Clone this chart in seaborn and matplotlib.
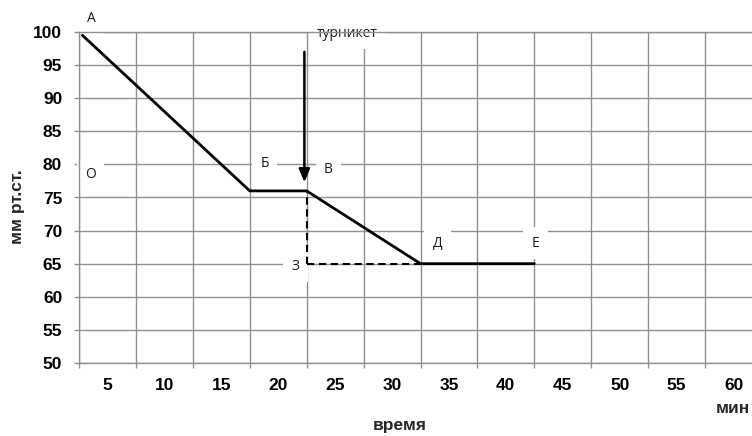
import numpy as np
import pandas as pd
import matplotlib.pyplot as plt
import seaborn as sns

# pressure curve (minutes, mm Hg)
time_min = [2.8, 17.5, 22.5, 32.5, 42.5]
pressure = [99.5, 76, 76, 65, 65]

# dashed helper lines to point З
dash_v_x = [22.5, 22.5]
dash_v_y = [76, 65]
dash_h_x = [22.5, 32.5]
dash_h_y = [65, 65]

# tourniquet arrow
arrow_x = 22.3
arrow_from = 97.0
arrow_to = 77.3

x_ticks = [5, 10, 15, 20, 25, 30, 35, 40, 45, 50, 55, 60]
y_ticks = [50, 55, 60, 65, 70, 75, 80, 85, 90, 95, 100]

point_labels = ['А', 'О', 'Б', 'В', 'Д', 'Е', 'З']
label_x = [3.6, 3.5, 18.8, 24.4, 34.0, 42.6, 21.5]
label_y = [102.1, 78.4, 80.1, 79.3, 68.1, 68.1, 64.6]

sns.set_theme(style='white')
plt.rcParams['font.family'] = ['Liberation Sans', 'DejaVu Sans']

GRID = '#8f8f8f'
LABEL_FONT = ['Open Sans', 'DejaVu Sans']

fig = plt.figure(figsize=(7.52, 4.36), dpi=100)
ax = fig.add_axes([79 / 752, 73 / 436, 683 / 752, 331 / 436])

curve = pd.DataFrame({'t': time_min, 'p': pressure})
sns.lineplot(data=curve, x='t', y='p', ax=ax, color='black', lw=2.0,
             estimator=None, sort=False, zorder=3)
sns.lineplot(x=dash_v_x, y=dash_v_y, ax=ax, color='black', lw=1.5,
             linestyle=(0, (3.5, 2.2)), estimator=None, zorder=3)
sns.lineplot(x=dash_h_x, y=dash_h_y, ax=ax, color='black', lw=1.5,
             linestyle=(0, (3.5, 2.2)), estimator=None, zorder=3)

ax.annotate('', xy=(arrow_x, arrow_to), xytext=(arrow_x, arrow_from),
            arrowprops=dict(arrowstyle='-|>,head_length=0.6,head_width=0.25',
                            color='black', lw=1.8, mutation_scale=13,
                            shrinkA=0, shrinkB=0), zorder=4)

ax.set_xlim(2.5, 62.5)
ax.set_ylim(50, 100)
ax.set_xticks(x_ticks)
ax.set_xticks(np.arange(2.5, 63, 5), minor=True)
ax.set_yticks(y_ticks)
ax.set_xlabel('')
ax.set_ylabel('')

ax.set_axisbelow(True)
ax.grid(False)
ax.grid(True, axis='x', which='minor', color=GRID, lw=1)
ax.grid(True, axis='y', which='major', color=GRID, lw=1)
for side in ['left', 'top', 'bottom']:
    ax.spines[side].set_visible(True)
    ax.spines[side].set_color(GRID)
    ax.spines[side].set_linewidth(1)
ax.spines['right'].set_visible(False)

ax.tick_params(axis='x', which='major', length=0, pad=11, labelsize=12.5,
               labelcolor='black')
ax.tick_params(axis='x', which='minor', length=3.6, width=1, color=GRID,
               bottom=True)
ax.tick_params(axis='y', which='major', length=3.6, width=1, color=GRID,
               pad=8.5, labelsize=12.5, labelcolor='black', left=True)
for lab in ax.get_xticklabels() + ax.get_yticklabels():
    lab.set_fontweight('bold')

for txt, lx, ly in zip(point_labels, label_x, label_y):
    ax.text(lx, ly, txt, ha='center', va='center', fontsize=10,
            family=LABEL_FONT, color='#1a1a1a', zorder=2.5, clip_on=False,
            bbox=dict(boxstyle='square,pad=0.6', fc='white', ec='none'))

ax.text(26.1, 99.8, 'турникет', ha='center', va='center', fontsize=10,
        family=LABEL_FONT, color='#1a1a1a', zorder=2.5, clip_on=False,
        bbox=dict(boxstyle='square,pad=0.6', fc='white', ec='none'))

fig.text(18 / 752, 1 - 207 / 436, 'мм рт.ст.', rotation=90, ha='center',
         va='center', fontsize=12.5, fontweight='bold')
fig.text(400 / 752, 1 - 430 / 436, 'время', ha='center', va='baseline',
         fontsize=12.5, fontweight='bold')
fig.text(733 / 752, 1 - 413 / 436, 'мин', ha='center', va='baseline',
         fontsize=12.5, fontweight='bold')

fig.savefig('out.png', dpi=100)
